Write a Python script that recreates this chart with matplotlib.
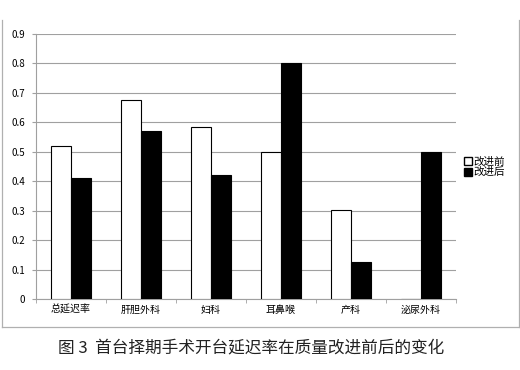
import matplotlib.pyplot as plt
import numpy as np
from matplotlib.lines import Line2D

plt.rcParams['font.family'] = ['Noto Sans CJK SC', 'DejaVu Sans']

# data
categories = ['总延迟率', '肝胆外科', '妇科', '耳鼻喉', '产科', '泌尿外科']
before = [0.52, 0.677, 0.583, 0.50, 0.302, 0.0]
after = [0.412, 0.571, 0.42, 0.80, 0.125, 0.50]
series_names = ['改进前', '改进后']
yticks = [0, 0.1, 0.2, 0.3, 0.4, 0.5, 0.6, 0.7, 0.8, 0.9]

W, H = 520, 370
fig = plt.figure(figsize=(W / 100, H / 100), dpi=100)

# plot area in pixels: x 36..456, y 34..299
ax = fig.add_axes([36 / W, 1 - 299 / H, (456 - 36) / W, (299 - 34) / H])

x = np.arange(len(categories))
bw = 0.29
ax.bar(x - bw / 2, before, bw, color='white', edgecolor='black', linewidth=0.8, zorder=3)
ax.bar(x + bw / 2, after, bw, color='black', edgecolor='black', linewidth=0.8, zorder=3)

ax.set_xlim(-0.5, len(categories) - 0.5)
ax.set_ylim(0, 0.9)
ax.set_yticks(yticks)
ax.set_yticklabels(['0'] + ['%.1f' % v for v in yticks[1:]], fontsize=7)
ax.yaxis.grid(True, color='#a0a0a0', linewidth=0.8, zorder=0)

ax.set_xticks(x)
ax.set_xticklabels(categories, fontsize=7.2)
ax.tick_params(axis='x', length=0, pad=4)
ax.set_xticks(np.arange(-0.5, len(categories)), minor=True)
ax.tick_params(axis='x', which='minor', length=3, color='#a0a0a0', direction='out')
ax.tick_params(axis='y', length=3, color='#a0a0a0', pad=5)

for s in ['top', 'right']:
    ax.spines[s].set_visible(False)
ax.spines['left'].set_color('#a0a0a0')
ax.spines['bottom'].set_color('#a0a0a0')

handles = [Line2D([], [], marker='s', linestyle='none', markerfacecolor='white',
                  markeredgecolor='black', markersize=5.5),
           Line2D([], [], marker='s', linestyle='none', markerfacecolor='black',
                  markeredgecolor='black', markersize=5.5)]
fig.legend(handles, series_names, loc='center left', bbox_to_anchor=(460 / W, 1 - 167 / H),
           frameon=False, fontsize=7.6, handlelength=0.6, handletextpad=0.15,
           labelspacing=0.05, borderpad=0)

# outer chart border
border = dict(color='#b0b0b0', linewidth=0.9, transform=fig.transFigure)
fig.add_artist(Line2D([2 / W, 2 / W], [1 - 20 / H, 1 - 327 / H], **border))
fig.add_artist(Line2D([519 / W, 519 / W], [1 - 20 / H, 1 - 327 / H], **border))
fig.add_artist(Line2D([2 / W, 519 / W], [1 - 327 / H, 1 - 327 / H], **border))

fig.text(58 / W, 1 - 348 / H, '图 3  首台择期手术开台延迟率在质量改进前后的变化',
         fontsize=12, va='center', ha='left', color='#222222')

fig.savefig('out.png', dpi=100)
